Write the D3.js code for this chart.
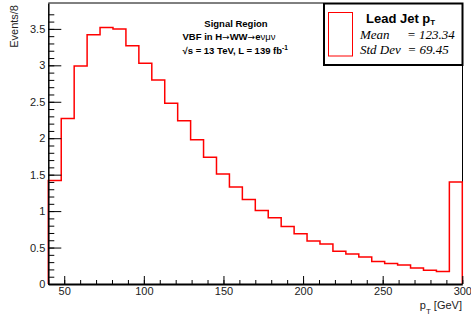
<!DOCTYPE html>
<html>
<head>
<meta charset="utf-8">
<script src="https://cdn.jsdelivr.net/npm/d3@7"></script>
<style>
  body { margin: 0; background: #fff; }
  text { font-family: "Liberation Sans", Arial, sans-serif; }
</style>
</head>
<body>
<div id="graph1"></div>
<script>
// histogram: 32 bins from 40 to 300 GeV (last bin includes overflow)
const xMin = 40, xMax = 300, nBins = 32;
const binValues = [1.42, 2.27, 2.99, 3.42, 3.52, 3.50, 3.27, 3.03, 2.80, 2.48,
                   2.24, 1.98, 1.74, 1.51, 1.33, 1.16, 1.01, 0.91, 0.79, 0.69,
                   0.59, 0.55, 0.45, 0.41, 0.37, 0.31, 0.28, 0.26, 0.22, 0.19,
                   0.17, 1.40];
const xMajorTicks = [50, 100, 150, 200, 250, 300];
const yMajorTicks = [0, 0.5, 1, 1.5, 2, 2.5, 3, 3.5];
const yTickLabels = ["0", "0.5", "1", "1.5", "2", "2.5", "3", "3.5"];
const statLines = [["Mean", "= 123.34"], ["Std Dev", "= 69.45"]];

const width = 471, height = 323;
const svg = d3.select("#graph1")
    .append("svg")
    .attr("width", width)
    .attr("height", height);

var x = d3.scaleLinear().domain([xMin, xMax]).range([48.3, 462.3]);
var y = d3.scaleLinear().domain([0, 3.855]).range([284, 3]);

const binW = (xMax - xMin) / nBins;
const pts = [[xMin, 0]];
binValues.forEach(function(v, i) { pts.push([xMin + i * binW, v]); });
pts.push([xMax, binValues[nBins - 1]]);
pts.push([xMax, 0]);

// frame
svg.append("line").attr("x1", x(xMin)).attr("x2", 323).attr("y1", 3).attr("y2", 3)
    .attr("stroke", "black").attr("stroke-width", 1);
svg.append("line").attr("x1", 462.5).attr("x2", 462.5).attr("y1", 3).attr("y2", 284)
    .attr("stroke", "black").attr("stroke-width", 1);

// histogram
svg.append("path")
    .datum(pts)
    .attr("fill", "none")
    .attr("stroke", "red")
    .attr("stroke-width", 1.5)
    .attr("d", d3.line().x(d => x(d[0])).y(d => y(d[1])).curve(d3.curveStepAfter));

// Y axis minor
svg.append("g")
    .attr("transform", "translate(" + x(xMin) + ",0)")
    .call(d3.axisLeft(y).tickValues(d3.range(0, 38).map(i => i / 10))
        .tickSizeInner(-6).tickSizeOuter(0).tickFormat(""))
    .call(g => g.select(".domain").remove());
// Y axis major
svg.append("g")
    .attr("transform", "translate(" + x(xMin) + ",0)")
    .call(d3.axisLeft(y).tickValues(yMajorTicks).tickSizeInner(-13).tickSizeOuter(0)
        .tickPadding(3).tickFormat((d, i) => yTickLabels[i]))
    .call(g => g.select(".domain").attr("stroke-width", 1.5))
    .selectAll("text")
        .style("font-size", "11px")
        .attr("fill", "#222");

// X axis minor
svg.append("g")
    .attr("transform", "translate(0," + y(0) + ")")
    .call(d3.axisBottom(x).tickValues(d3.range(40, 301, 10))
        .tickSizeInner(-4).tickSizeOuter(0).tickFormat(""))
    .call(g => g.select(".domain").remove());
// X axis major
svg.append("g")
    .attr("transform", "translate(0," + y(0) + ")")
    .call(d3.axisBottom(x).tickValues(xMajorTicks).tickSizeInner(-8).tickSizeOuter(0)
        .tickPadding(3))
    .call(g => g.select(".domain").attr("stroke-width", 2))
    .selectAll("text")
        .style("font-size", "11px")
        .attr("fill", "#222");

// axis titles
svg.append("text")
    .attr("transform", "translate(18,5)rotate(-90)")
    .attr("text-anchor", "end")
    .style("font-size", "11px")
    .attr("fill", "#222")
    .text("Events/8");

const xt = svg.append("text")
    .attr("x", 462).attr("y", 309)
    .attr("text-anchor", "end")
    .style("font-size", "11px")
    .attr("fill", "#222");
xt.append("tspan").text("p");
xt.append("tspan").attr("dy", 5).style("font-size", "8px").text("T");
xt.append("tspan").attr("dy", -5).text(" [GeV]");

// region label
svg.append("text")
    .attr("x", 236).attr("y", 27)
    .attr("text-anchor", "middle")
    .style("font-size", "9.5px").style("font-weight", "bold")
    .text("Signal Region");
const l2 = svg.append("text")
    .attr("x", 182.5).attr("y", 39.5)
    .style("font-size", "9.5px").style("font-weight", "bold");
l2.append("tspan").text("VBF in H");
l2.append("tspan").style("font-family", "'DejaVu Sans', sans-serif").style("font-weight", "normal")
    .style("font-size", "9px").text("\u2192");
l2.append("tspan").text("WW");
l2.append("tspan").style("font-family", "'DejaVu Sans', sans-serif").style("font-weight", "normal")
    .style("font-size", "9px").text("\u2192");
l2.append("tspan").text("e");
l2.append("tspan").style("font-weight", "normal").text("\u03bd\u03bc\u03bd");
const l3 = svg.append("text")
    .attr("x", 182.5).attr("y", 54)
    .style("font-size", "9.5px").style("font-weight", "bold");
l3.append("tspan").text("\u221as = 13 TeV, L = 139 fb");
l3.append("tspan").attr("dy", -4).style("font-size", "6.5px").text("-1");

// stat box
svg.append("rect")
    .attr("x", 324).attr("y", 3.5).attr("width", 138.5).attr("height", 61.5)
    .attr("fill", "white").attr("stroke", "black").attr("stroke-width", 2);
svg.append("rect")
    .attr("x", 328.5).attr("y", 12.5).attr("width", 24).attr("height", 43.5)
    .attr("fill", "none").attr("stroke", "red").attr("stroke-width", 1);
const lt = svg.append("text")
    .attr("x", 366).attr("y", 22.5)
    .style("font-size", "13px").style("font-weight", "bold");
lt.append("tspan").text("Lead Jet p");
lt.append("tspan").attr("dy", 2.5).style("font-size", "8px").text("T");

statLines.forEach(function(s, i) {
    svg.append("text")
        .attr("x", 360).attr("y", 39 + i * 15)
        .style("font-family", "'Liberation Serif', 'Times New Roman', serif")
        .style("font-style", "italic")
        .style("font-size", "13px")
        .text(s[0]);
    svg.append("text")
        .attr("x", i === 0 ? 407 : 407.5).attr("y", 39 + i * 15)
        .style("font-family", "'Liberation Serif', 'Times New Roman', serif")
        .style("font-style", "italic")
        .style("font-size", "13px")
        .text(s[1]);
});
</script>
</body>
</html>
